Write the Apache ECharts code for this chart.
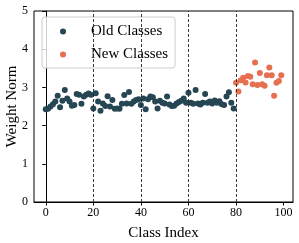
<!DOCTYPE html>
<html>
<head>
<meta charset="utf-8">
<script src="https://cdn.jsdelivr.net/npm/echarts@6/dist/echarts.min.js"></script>
<style>html,body{margin:0;padding:0;background:#fff}#c{width:299px;height:243px}</style>
</head>
<body>
<div id="c"></div>
<script>
const oldValues = [2.43,2.44,2.50,2.56,2.63,2.78,2.48,2.65,2.93,2.71,
  2.63,2.52,2.54,2.83,2.81,2.57,2.76,2.81,2.84,2.81,
  2.45,2.85,2.63,2.39,2.58,2.51,2.77,2.50,2.67,2.44,
  2.45,2.44,2.57,2.80,2.58,2.88,2.57,2.63,2.67,2.69,
  2.54,2.71,2.43,2.69,2.76,2.74,2.63,2.45,2.65,2.60,
  2.58,2.76,2.55,2.51,2.52,2.58,2.62,2.65,2.71,2.60,
  2.86,2.60,2.57,2.93,2.58,2.55,2.60,2.83,2.60,2.63,
  2.58,2.66,2.60,2.64,2.56,2.54,2.76,2.87,2.60,2.45];
const newValues = [3.12,2.89,3.19,3.25,3.13,3.30,3.28,3.08,3.65,3.06,
  3.38,3.08,3.04,3.32,3.52,3.32,2.78,3.12,3.17,3.32];
const dividers = [20,40,60,80];
const xTicks = [0,20,40,60,80,100];
const oldData = oldValues.map((v,i)=>[i,v]);
const newData = newValues.map((v,i)=>[oldValues.length+i,v]);
const font = 'Liberation Serif';
const chart = echarts.init(document.getElementById('c'), null, {renderer:'canvas'});
chart.setOption({
  animation:false,
  grid:{left:34,right:6,top:11,bottom:41,outerBoundsMode:'none',containLabel:false,
    show:true,borderColor:'#000',borderWidth:1,backgroundColor:'transparent'},
  xAxis:{type:'value',min:-4.95,max:103.95,
    name:'Class Index',nameLocation:'middle',nameGap:24,nameMoveOverlap:false,
    nameTextStyle:{fontFamily:font,fontSize:15,color:'#000'},
    axisLine:{lineStyle:{color:'#000',width:1}},
    axisTick:{show:true,customValues:xTicks,length:3.5,inside:false,lineStyle:{color:'#000'}},
    axisLabel:{customValues:xTicks,margin:5,fontFamily:font,fontSize:12,color:'#000'},
    splitLine:{show:false}},
  yAxis:{type:'value',min:0,max:5,interval:1,
    name:'Weight Norm',nameLocation:'middle',nameGap:14,nameMoveOverlap:false,
    nameTextStyle:{fontFamily:font,fontSize:15,color:'#000'},
    axisLine:{show:true,lineStyle:{color:'#000',width:1}},
    axisTick:{show:true,length:3.5,lineStyle:{color:'#000'}},
    axisLabel:{margin:6,fontFamily:font,fontSize:12,color:'#000'},
    splitLine:{show:false}},
  legend:{orient:'vertical',left:42,top:17,
    padding:[7,7,6,18],itemGap:8,itemWidth:6,itemHeight:6,
    borderColor:'#cccccc',borderWidth:1,borderRadius:3,backgroundColor:'rgba(255,255,255,0.8)',
    formatter:'{a|{name}}',
    textStyle:{fontFamily:font,fontSize:15,color:'#000',lineHeight:14,
      rich:{a:{fontFamily:font,fontSize:15,color:'#000',padding:[0,0,0,20],lineHeight:14}}},
    data:[{name:'Old Classes',icon:'circle'},{name:'New Classes',icon:'circle'}]},
  series:[
    {name:'Old Classes',type:'scatter',data:oldData,symbolSize:6,
     itemStyle:{color:'#264653',opacity:1},
     markLine:{silent:true,symbol:'none',label:{show:false},
       lineStyle:{color:'#222',type:[3,2],width:0.9},
       data:dividers.map(d=>({xAxis:d}))}},
    {name:'New Classes',type:'scatter',data:newData,symbolSize:6,
     itemStyle:{color:'#E76F51',opacity:1}}
  ]
});
</script>
</body>
</html>
